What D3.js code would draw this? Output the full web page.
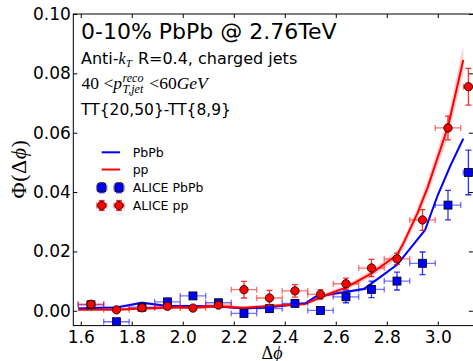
<!DOCTYPE html>
<html>
<head>
<meta charset="utf-8">
<script src="https://cdn.jsdelivr.net/npm/d3@7"></script>
<style>
  html, body { margin: 0; padding: 0; background: #fff; }
  svg { display: block; }
</style>
</head>
<body>
<svg id="chart" width="473" height="361"></svg>
<script>
// ---------------- DATA ----------------
const binCenters = [1.64, 1.74, 1.84, 1.94, 2.04, 2.14, 2.24, 2.34, 2.44, 2.54, 2.64, 2.74, 2.84, 2.94, 3.04, 3.12];
const binHalfWidths = [0.05, 0.05, 0.05, 0.05, 0.05, 0.05, 0.05, 0.05, 0.05, 0.05, 0.05, 0.05, 0.05, 0.05, 0.05, 0.02];

const alicePbPb    = [0.0020, -0.0037, 0.0012, 0.0030, 0.0050, 0.0027, -0.0009, 0.0007, 0.0025, 0.0001, 0.0047, 0.0072, 0.0100, 0.0160, 0.0356, 0.0466];
const alicePbPbErr = [0.0006, 0.0006, 0.0006, 0.0007, 0.0007, 0.0008, 0.0010, 0.0010, 0.0011, 0.0011, 0.0020, 0.0028, 0.0030, 0.0038, 0.0050, 0.0075];

const alicePP    = [0.0022, 0.0003, 0.0010, 0.0015, 0.0009, 0.0019, 0.0071, 0.0043, 0.0067, 0.0055, 0.0091, 0.0144, 0.0175, 0.0306, 0.0616, 0.0755];
const alicePPErr = [0.0007, 0.0006, 0.0006, 0.0007, 0.0007, 0.0008, 0.0028, 0.0026, 0.0021, 0.0016, 0.0019, 0.0029, 0.0019, 0.0035, 0.0040, 0.0062];

const modelPbPbX    = [1.59, 1.64, 1.74, 1.84, 1.94, 2.04, 2.14, 2.24, 2.34, 2.48, 2.52, 2.71, 2.84, 2.95, 3.00, 3.05, 3.10];
const modelPbPbY    = [0.0008, 0.0009, 0.0011, 0.0027, 0.0016, 0.0016, 0.0014, 0.0008, 0.0012, 0.0025, 0.0047, 0.0073, 0.0155, 0.0272, 0.0390, 0.0490, 0.0580];
const modelPbPbBand = [0.0004, 0.0004, 0.0004, 0.0005, 0.0004, 0.0004, 0.0004, 0.0004, 0.0004, 0.0004, 0.0004, 0.0005, 0.0005, 0.0006, 0.0008, 0.0009, 0.0010];

const modelPPX    = [1.59, 1.74, 1.94, 2.04, 2.14, 2.24, 2.34, 2.48, 2.58, 2.64, 2.74, 2.84, 2.865, 2.92, 2.96, 3.04, 3.10];
const modelPPY    = [0.0003, 0.0004, 0.0010, 0.0012, 0.0014, 0.0010, 0.0016, 0.0023, 0.0059, 0.0078, 0.0126, 0.0188, 0.0227, 0.0328, 0.0415, 0.0620, 0.0845];
const modelPPBand = [0.0004, 0.0004, 0.0005, 0.0005, 0.0005, 0.0005, 0.0006, 0.0006, 0.0008, 0.0009, 0.0011, 0.0014, 0.0016, 0.0020, 0.0025, 0.0035, 0.0048];

const xTicks = [1.6, 1.8, 2.0, 2.2, 2.4, 2.6, 2.8, 3.0];
const xTickLabels = ["1.6", "1.8", "2.0", "2.2", "2.4", "2.6", "2.8", "3.0"];
const yTicks = [0.00, 0.02, 0.04, 0.06, 0.08, 0.10];
const yTickLabels = ["0.00", "0.02", "0.04", "0.06", "0.08", "0.10"];

const legendLabels = ["PbPb", "pp", "ALICE PbPb", "ALICE pp"];

// ---------------- LAYOUT ----------------
const PL = 73.3, PR = 473.9, PT = 14, PB = 325.6;
const RED = "#ff0000", BLUE = "#0000ff";
const SANS = "DejaVu Sans", SERIF = "'Liberation Serif', 'DejaVu Serif', serif";

const svg = d3.select("#chart");
const x = d3.scaleLinear().domain([Math.PI / 2, Math.PI]).range([PL, PR]);
const y = d3.scaleLinear().domain([-0.005, 0.1]).range([PB, PT]);

svg.append("defs").append("clipPath").attr("id", "plotclip")
  .append("rect").attr("x", PL).attr("y", PT).attr("width", PR - PL).attr("height", PB - PT);

const plot = svg.append("g").attr("clip-path", "url(#plotclip)");

// bands + lines
function drawModel(xs, ys, band, color) {
  const pts = xs.map((d, i) => ({ x: d, y: ys[i], e: band[i] }));
  const area = d3.area().x(d => x(d.x)).y0(d => y(d.y - d.e)).y1(d => y(d.y + d.e));
  plot.append("path").datum(pts).attr("d", area).attr("fill", color).attr("fill-opacity", 0.2);
  const line = d3.line().x(d => x(d.x)).y(d => y(d.y));
  plot.append("path").datum(pts).attr("d", line).attr("fill", "none")
    .attr("stroke", color).attr("stroke-width", 2).attr("stroke-linejoin", "round");
}
drawModel(modelPbPbX, modelPbPbY, modelPbPbBand, BLUE);
drawModel(modelPPX, modelPPY, modelPPBand, RED);

// data with error bars
const CAP = 3;
function drawErrors(g, px, py, ex, ey, color) {
  const seg = (x1, y1, x2, y2, op) => g.append("line").attr("x1", x1).attr("y1", y1).attr("x2", x2).attr("y2", y2)
    .attr("stroke", color).attr("stroke-opacity", op).attr("stroke-width", 1.3);
  seg(px - ex, py, px + ex, py, 0.55);
  seg(px - ex, py - CAP, px - ex, py + CAP, 0.55);
  seg(px + ex, py - CAP, px + ex, py + CAP, 0.55);
  seg(px, py - ey, px, py + ey, 0.8);
  seg(px - CAP, py - ey, px + CAP, py - ey, 0.8);
  seg(px - CAP, py + ey, px + CAP, py + ey, 0.8);
}
function square(g, px, py) {
  g.append("rect").attr("x", px - 4).attr("y", py - 4).attr("width", 8).attr("height", 8)
    .attr("fill", BLUE).attr("stroke", "#000").attr("stroke-width", 0.8);
}
function circle(g, px, py) {
  g.append("circle").attr("cx", px).attr("cy", py).attr("r", 4.2)
    .attr("fill", RED).attr("stroke", "#000").attr("stroke-width", 0.8);
}

binCenters.forEach((c, i) => {
  const px = x(c), py = y(alicePbPb[i]);
  drawErrors(plot, px, py, x(c + binHalfWidths[i]) - px, py - y(alicePbPb[i] + alicePbPbErr[i]), BLUE);
});
binCenters.forEach((c, i) => square(plot, x(c), y(alicePbPb[i])));
binCenters.forEach((c, i) => {
  const px = x(c), py = y(alicePP[i]);
  drawErrors(plot, px, py, x(c + binHalfWidths[i]) - px, py - y(alicePP[i] + alicePPErr[i]), RED);
});
binCenters.forEach((c, i) => circle(plot, x(c), y(alicePP[i])));

// ---------------- AXES ----------------
const TICK = 4;
const axB = svg.append("g").attr("transform", `translate(0,${PB})`)
  .call(d3.axisBottom(x).tickValues(xTicks).tickFormat((d, i) => xTickLabels[i]).tickSize(-TICK).tickPadding(5));
const axT = svg.append("g").attr("transform", `translate(0,${PT})`)
  .call(d3.axisTop(x).tickValues(xTicks).tickFormat("").tickSize(-TICK));
const axL = svg.append("g").attr("transform", `translate(${PL},0)`)
  .call(d3.axisLeft(y).tickValues(yTicks).tickFormat((d, i) => yTickLabels[i]).tickSize(-TICK).tickPadding(2.5));
const axR = svg.append("g").attr("transform", `translate(${PR - 1},0)`)
  .call(d3.axisRight(y).tickValues(yTicks).tickFormat("").tickSize(-TICK));
[axB, axT, axL, axR].forEach(a => {
  a.select(".domain").remove();
  a.selectAll("line").attr("stroke", "#000").attr("stroke-width", 1);
  a.selectAll("text").attr("fill", "#000").style("font-family", SANS).style("font-size", "17px");
});

// frame
svg.append("rect").attr("x", PL).attr("y", PT).attr("width", PR - PL).attr("height", PB - PT)
  .attr("fill", "none").attr("stroke", "#000").attr("stroke-width", 1);

// axis labels
svg.append("text").attr("x", 272).attr("y", 358.5).attr("text-anchor", "middle")
  .style("font-family", SERIF).style("font-size", "18px")
  .call(t => { t.append("tspan").text("Δ"); t.append("tspan").style("font-style", "italic").text("ϕ"); });

svg.append("text").attr("transform", "translate(26,169) rotate(-90)").attr("text-anchor", "middle")
  .style("font-family", SERIF).style("font-size", "22px").style("letter-spacing", "0.5px")
  .call(t => {
    t.append("tspan").text("Φ(Δ");
    t.append("tspan").style("font-style", "italic").text("ϕ");
    t.append("tspan").text(")");
  });

// ---------------- ANNOTATIONS ----------------
function txt(xp, yp, s, font, size, style) {
  return svg.append("text").attr("x", xp).attr("y", yp)
    .style("font-family", font).style("font-size", size + "px").style("font-style", style || "normal")
    .attr("xml:space", "preserve").text(s);
}
const W = sel => sel.node().getComputedTextLength();

svg.append("text").attr("x", 81).attr("y", 39).style("font-family", SANS).style("font-size", "22px").text("0-10% PbPb @ 2.76TeV");

// Anti-k_T R=0.4, charged jets
{
  let cx = 81;
  cx += W(txt(cx, 63.5, "Anti-", SANS, 16));
  cx += W(txt(cx, 63.5, "k", SERIF, 16, "italic"));
  cx += W(txt(cx, 66.5, "T", SERIF, 11, "italic")) + 1;
  txt(cx, 63.5, " R=0.4, charged jets", SANS, 16);
}

// 40 < p_T,jet^reco < 60 GeV  (math text)
{
  let cx = 81.5;
  const by = 89, fs = 17.5, ss = 12;
  cx += W(txt(cx, by, "40 <", SERIF, fs));
  cx += W(txt(cx, by, "p", SERIF, fs, "italic")) + 0.5;
  const a = W(txt(cx, by - 7.5, "reco", SERIF, ss, "italic"));
  const b = W(txt(cx, by + 3.5, "T,jet", SERIF, ss, "italic"));
  cx += Math.max(a, b) + 1.5;
  cx += W(txt(cx, by, " <60", SERIF, fs));
  txt(cx, by, "GeV", SERIF, fs, "italic");
}

svg.append("text").attr("x", 81).attr("y", 115).style("font-family", SANS).style("font-size", "15.5px").text("TT{20,50}-TT{8,9}");

// ---------------- LEGEND ----------------
const legRows = [152.3, 169.5, 187.7, 205.5];
const LX1 = 101.7, LX2 = 120, LTX = 132.7;
const leg = svg.append("g");
leg.append("line").attr("x1", LX1).attr("x2", LX2).attr("y1", legRows[0]).attr("y2", legRows[0]).attr("stroke", BLUE).attr("stroke-width", 2);
leg.append("line").attr("x1", LX1).attr("x2", LX2).attr("y1", legRows[1]).attr("y2", legRows[1]).attr("stroke", RED).attr("stroke-width", 2);
[LX1, LX2 - 1].forEach(px => { drawErrors(leg, px, legRows[2], 5, 5, BLUE); square(leg, px, legRows[2]); });
[LX1, LX2 - 1].forEach(px => { drawErrors(leg, px, legRows[3], 5, 5, RED); circle(leg, px, legRows[3]); });
legendLabels.forEach((l, i) => {
  leg.append("text").attr("x", LTX).attr("y", legRows[i] + 4.6)
    .style("font-family", SANS).style("font-size", "12.5px").text(l);
});
</script>
</body>
</html>
